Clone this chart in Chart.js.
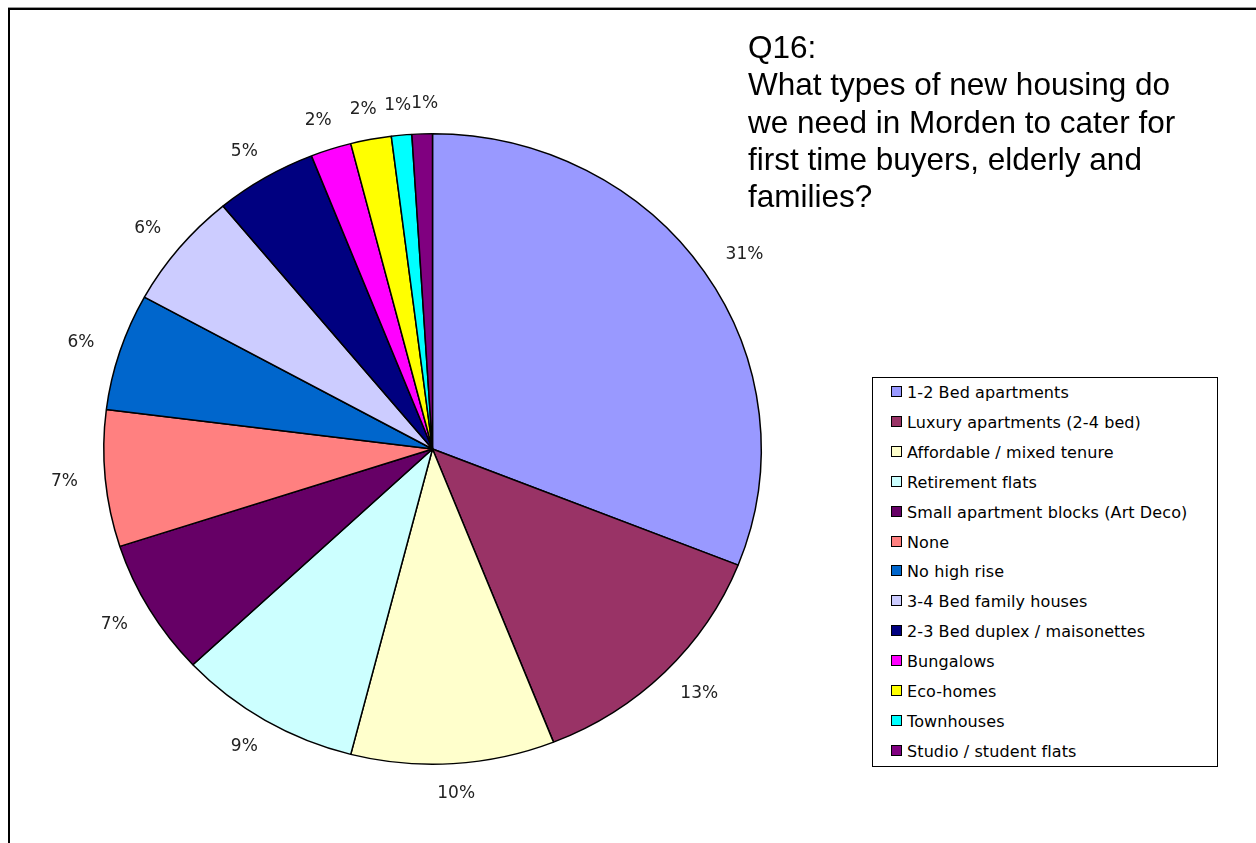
<!DOCTYPE html>
<html>
<head>
<meta charset="utf-8">
<script src="https://cdn.jsdelivr.net/npm/chart.js@4/dist/chart.umd.min.js"></script>
<style>
  html, body { margin: 0; padding: 0; background: #fff; }
  body { width: 1256px; height: 843px; position: relative; overflow: hidden; }
  #frame {
    position: absolute; left: 8px; top: 8px; width: 1300px; height: 900px;
    border-left: 2px solid #000; border-top: 2px solid #000;
    box-shadow: 0 -1px 0 #999;
  }
  #wrap { position: absolute; left: 0; top: 0; width: 1256px; height: 843px; }
  #title {
    position: absolute; left: 748px; top: 29px;
    font-family: "Liberation Sans", Arial, sans-serif; font-size: 31.5px;
    line-height: 37.3px; color: #000; white-space: nowrap;
  }
  #legend {
    position: absolute; left: 872px; top: 377px; width: 344px; height: 388px;
    border: 1px solid #000; background: #fff;
    font-family: "DejaVu Sans", Verdana, sans-serif; font-size: 16px; color: #000;
  }
  .item { position: absolute; left: 18px; height: 20px; line-height: 20px; white-space: nowrap; letter-spacing: 0.1px; }
  .sw { display: inline-block; width: 9px; height: 9px; border: 1px solid #000; margin-right: 5px; vertical-align: 1px; }
</style>
</head>
<body>
<div id="frame"></div>
<div id="wrap"><canvas id="pie" width="1256" height="843"></canvas></div>
<div id="title">Q16:<br>What types of new housing do<br>we need in Morden to cater for<br>first time buyers, elderly and<br>families?</div>
<div id="legend"></div>
<script>
// Survey answers, in pie order (clockwise from 12 o'clock)
const categories = [
  "1-2 Bed apartments",
  "Luxury apartments (2-4 bed)",
  "Affordable / mixed tenure",
  "Retirement flats",
  "Small apartment blocks (Art Deco)",
  "None",
  "No high rise",
  "3-4 Bed family houses",
  "2-3 Bed duplex / maisonettes",
  "Bungalows",
  "Eco-homes",
  "Townhouses",
  "Studio / student flats"
];
// Share of responses, percent
const shares = [31, 13, 10, 9, 7, 7, 6, 6, 5, 2, 2, 1, 1];
const sliceColors = [
  "#9999FF", "#993366", "#FFFFCC", "#CCFFFF", "#660066", "#FF8080",
  "#0066CC", "#CCCCFF", "#000080", "#FF00FF", "#FFFF00", "#00FFFF", "#800080"
];

// Legend
const legend = document.getElementById('legend');
categories.forEach((name, i) => {
  const row = document.createElement('div');
  row.className = 'item';
  row.style.top = (5 + i * 29.9) + 'px';
  const sw = document.createElement('span');
  sw.className = 'sw';
  sw.style.background = sliceColors[i];
  row.appendChild(sw);
  row.appendChild(document.createTextNode(name));
  legend.appendChild(row);
});

// Pie is drawn slightly flattened vertically
const Y_SQUASH = 0.959;

const squashPlugin = {
  id: 'squash',
  beforeDatasetsDraw(chart) {
    const a = chart.chartArea;
    const cx = (a.left + a.right) / 2, cy = (a.top + a.bottom) / 2;
    const ctx = chart.ctx;
    ctx.save();
    ctx.translate(cx, cy);
    ctx.scale(1, Y_SQUASH);
    ctx.translate(-cx, -cy);
  },
  afterDatasetsDraw(chart) {
    chart.ctx.restore();
  }
};

// Percentage labels just outside each slice; crowded neighbours are nudged apart
const outsideLabels = {
  id: 'outsideLabels',
  afterDraw(chart) {
    const ctx = chart.ctx;
    const meta = chart.getDatasetMeta(0);
    ctx.save();
    ctx.font = '17px "DejaVu Sans", Verdana, sans-serif';
    ctx.fillStyle = '#222';
    ctx.textAlign = 'center';
    ctx.textBaseline = 'middle';
    let prev = null;
    meta.data.forEach((arc, i) => {
      const p = arc.getProps(['x', 'y', 'startAngle', 'endAngle', 'outerRadius'], true);
      const mid = (p.startAngle + p.endAngle) / 2;
      const ux = Math.cos(mid), uy = Math.sin(mid);
      const rx = p.outerRadius, ry = p.outerRadius * Y_SQUASH;
      const text = chart.data.datasets[0].data[i] + '%';
      const hw = ctx.measureText(text).width / 2;
      const gap = 22;
      let x = p.x + ux * (rx + gap) + ux * hw * 1.4;
      const y = p.y + uy * (ry + gap) + uy * 8;
      if (prev && Math.abs(y - prev.y) < 16) {
        const minX = prev.x + prev.hw + hw;
        if (x < minX && x > prev.x - prev.hw - hw) x = minX;
      }
      ctx.fillText(text, x, y);
      prev = { x, y, hw };
    });
    ctx.restore();
  }
};

new Chart(document.getElementById('pie'), {
  type: 'pie',
  data: {
    labels: categories,
    datasets: [{
      data: shares,
      backgroundColor: sliceColors,
      borderColor: '#000',
      borderWidth: 1.5
    }]
  },
  options: {
    responsive: false,
    animation: false,
    events: [],
    layout: { padding: { left: 103, right: 494, top: 119.5, bottom: 64.5 } },
    plugins: { legend: { display: false }, tooltip: { enabled: false } }
  },
  plugins: [squashPlugin, outsideLabels]
});
</script>
</body>
</html>
